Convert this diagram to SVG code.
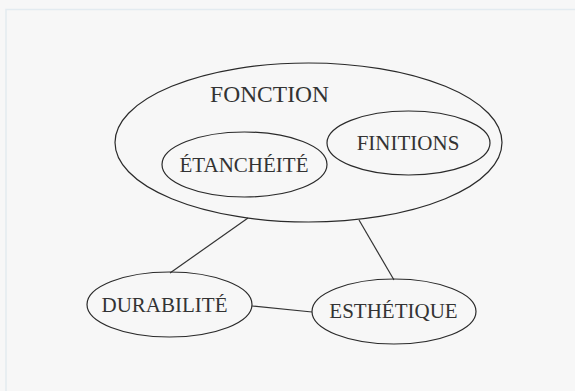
<svg xmlns="http://www.w3.org/2000/svg" width="575" height="391" viewBox="0 0 575 391">
<style>
.n{fill:none;stroke:#2a2a2a;stroke-width:1.2}
.t{font-family:"Liberation Serif",serif;fill:#333;text-anchor:middle}
.c{stroke:#333;stroke-width:1.2;fill:none}
</style>
<rect x="0" y="0" width="575" height="391" fill="#f7f7f7"/>
<path d="M6 391 V9.5 H575" fill="none" stroke="#e3ebf0" stroke-width="1.5"/>
<g id="connectors">
<line class="c" x1="248" y1="218" x2="170" y2="273"/>
<line class="c" x1="359" y1="220" x2="394" y2="280"/>
<line class="c" x1="252" y1="306" x2="312" y2="312"/>
</g>
<g id="fonction">
<ellipse class="n" cx="308.5" cy="142.5" rx="193.5" ry="79.5"/>
<text class="t" x="269.5" y="102" font-size="23.5">FONCTION</text>
</g>
<g id="etancheite">
<ellipse class="n" cx="244.5" cy="164.5" rx="82.5" ry="32.5"/>
<text class="t" x="244" y="172" font-size="21">ÉTANCHÉITÉ</text>
</g>
<g id="finitions">
<ellipse class="n" cx="408.5" cy="143" rx="81.5" ry="32"/>
<text class="t" x="408" y="150" font-size="21">FINITIONS</text>
</g>
<g id="durabilite">
<ellipse class="n" cx="169.5" cy="304.5" rx="82.5" ry="32.5"/>
<text class="t" x="164.5" y="312" font-size="21">DURABILITÉ</text>
</g>
<g id="esthetique">
<ellipse class="n" cx="394" cy="311.5" rx="82" ry="32.5"/>
<text class="t" x="393.5" y="318" font-size="21">ESTHÉTIQUE</text>
</g>
</svg>
